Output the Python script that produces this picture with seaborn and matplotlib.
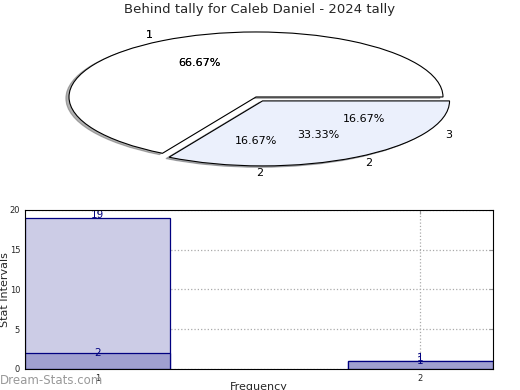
import numpy as np
import pandas as pd
import seaborn as sns
import matplotlib
matplotlib.use('Agg')
import matplotlib.pyplot as plt

# pie data (two overlaid pies)
pieA_vals = [4, 2]
pieA_labels = ['1', '2']
pieB_vals = [4, 1, 1]
pieB_labels = ['1', '2', '3']

# bar data
freq = [1, 2]
intervals_light = [19, 1]
intervals_dark = [2, 1]

sns.set_style('white')
plt.rcParams['font.family'] = ['DejaVu Sans']

fig = plt.figure(figsize=(5.2, 3.9), dpi=100)

# ---- pie ----
axp = fig.add_axes([0.0428, 0.543, 0.899, 0.4167])
white = '#ffffff'
blue = '#ebf0fc'
wp = dict(edgecolor='black', linewidth=0.8)
# three-slice pie only leaves its texts
axp.pie(pieB_vals, labels=pieB_labels, colors=[white, blue, blue], explode=[0, 0.07, 0.07],
        autopct='%.2f%%', startangle=0, wedgeprops=dict(alpha=0),
        textprops=dict(fontsize=8, color='black'))
axp.pie(pieA_vals, labels=pieA_labels, colors=[white, blue], explode=[0, 0.07],
        autopct='%.2f%%', startangle=0, shadow=dict(ox=-0.012, oy=-0.015, shade=0.6),
        wedgeprops=wp, textprops=dict(fontsize=8, color='black'))
axp.set_aspect('auto')
axp.set_xlim(-1.25, 1.25)
axp.set_ylim(-1.25, 1.25)
fig.text(0.5, 1 - 10 / 390, 'Behind tally for Caleb Daniel - 2024 tally',
         fontsize=9.5, ha='center', va='center')

# ---- bars ----
axb = fig.add_axes([0.048, 0.054, 0.9, 0.408])
dfL = pd.DataFrame({'Frequency': freq, 'Stat Intervals': intervals_light})
dfD = pd.DataFrame({'Frequency': freq, 'Stat Intervals': intervals_dark})
sns.barplot(data=dfL, x='Frequency', y='Stat Intervals', native_scale=True, width=0.45,
            color='#cccce6', saturation=1, edgecolor='#000080', linewidth=0.9, ax=axb)
sns.barplot(data=dfD, x='Frequency', y='Stat Intervals', native_scale=True, width=0.45,
            color='#a0a0d0', saturation=1, edgecolor='#000080', linewidth=0.9, ax=axb)

for x, v in zip(freq, intervals_light):
    axb.text(x, v + 0.4, str(v), ha='center', va='center', color='#000080', fontsize=7.5)
for x, v in zip(freq, intervals_dark):
    axb.text(x, v, str(v), ha='center', va='center', color='#000080', fontsize=7.5)

axb.set_xlim(0.775, 2.225)
axb.set_ylim(0, 20)
axb.set_xticks(freq)
axb.set_yticks([0, 5, 10, 15, 20])
axb.tick_params(labelsize=6, direction='in', length=3, color='#999999', right=True, top=True)
axb.grid(True, ls=':', color='#aaaaaa', lw=0.9)
for s in axb.spines.values():
    s.set_color('black')
    s.set_linewidth(0.8)
    s.set_zorder(5)
axb.set_ylabel('Stat Intervals', fontsize=8)
axb.set_xlabel('Frequency', fontsize=8)
axb.yaxis.set_label_coords(-0.033, 0.5)
axb.xaxis.set_label_coords(0.5, -0.085)

fig.text(0.0, 0.025, 'Dream-Stats.com', color='#999999', fontsize=8.5, va='center', ha='left')

fig.savefig('out.png', dpi=100)
